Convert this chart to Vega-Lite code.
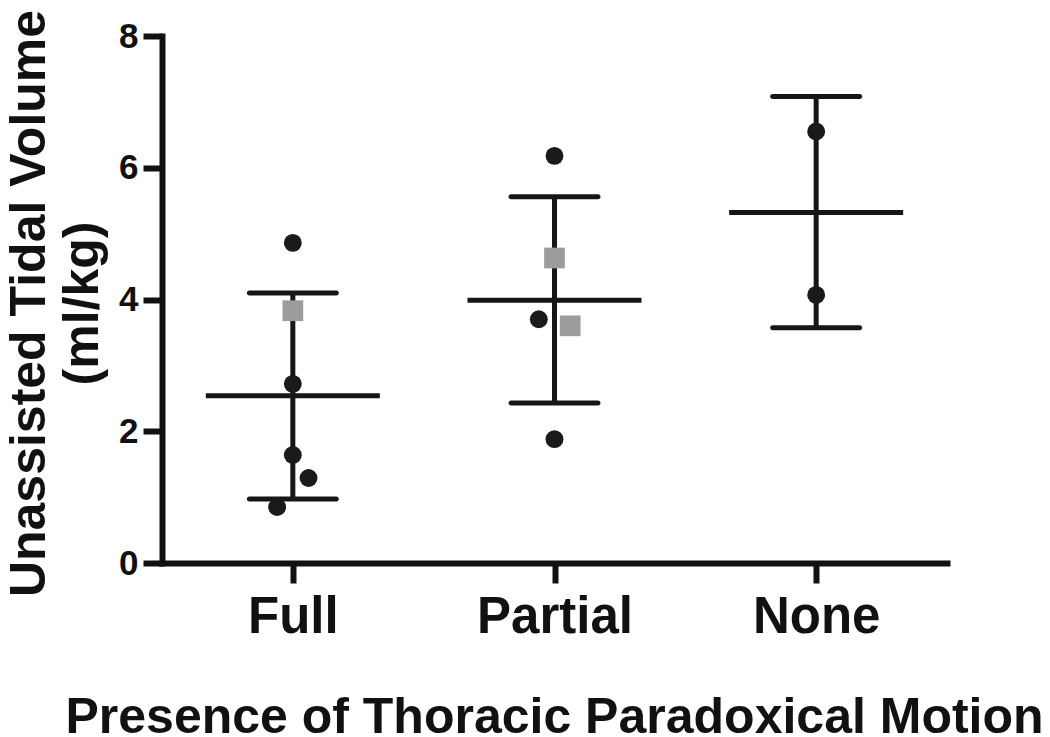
{
  "$schema": "https://vega.github.io/schema/vega-lite/v6.json",
  "width": 785,
  "height": 527,
  "autosize": "none",
  "padding": {"left": 162, "top": 36, "right": 103, "bottom": 174},
  "background": "white",
  "config": {
    "view": {"stroke": null},
    "font": "Liberation Sans",
    "axis": {
      "grid": false,
      "domainColor": "#111111",
      "domainWidth": 6,
      "domainCap": "square",
      "tickColor": "#111111",
      "tickWidth": 6,
      "labelFont": "Liberation Sans",
      "labelFontWeight": "bold",
      "labelColor": "#111111",
      "titleFont": "Liberation Sans",
      "titleFontWeight": "bold",
      "titleColor": "#111111"
    },
    "axisX": {
      "tickSize": 20,
      "labelFontSize": 51,
      "labelPadding": 49,
      "labelBaseline": "alphabetic",
      "titleFontSize": 50,
      "titleX": 392,
      "titleY": 169,
      "titleAlign": "center",
      "titleBaseline": "alphabetic"
    },
    "axisY": {
      "tickSize": 19,
      "labelFontSize": 35,
      "labelPadding": 5,
      "format": "d",
      "titleFontSize": 50,
      "titleX": -118,
      "titleY": 267,
      "titleAngle": 270,
      "titleAlign": "center",
      "titleBaseline": "alphabetic",
      "titleLineHeight": 53
    }
  },
  "datasets": {
    "points": [
      {"group": "Full", "x": 1.0, "value": 4.86, "marker": "A"},
      {"group": "Full", "x": 1.0, "value": 3.83, "marker": "B"},
      {"group": "Full", "x": 1.0, "value": 2.72, "marker": "A"},
      {"group": "Full", "x": 1.0, "value": 1.64, "marker": "A"},
      {"group": "Full", "x": 1.06, "value": 1.29, "marker": "A"},
      {"group": "Full", "x": 0.94, "value": 0.85, "marker": "A"},
      {"group": "Partial", "x": 2.0, "value": 6.18, "marker": "A"},
      {"group": "Partial", "x": 2.0, "value": 4.63, "marker": "B"},
      {"group": "Partial", "x": 1.94, "value": 3.70, "marker": "A"},
      {"group": "Partial", "x": 2.06, "value": 3.60, "marker": "B"},
      {"group": "Partial", "x": 2.0, "value": 1.88, "marker": "A"},
      {"group": "None", "x": 3.0, "value": 6.55, "marker": "A"},
      {"group": "None", "x": 3.0, "value": 4.07, "marker": "A"}
    ],
    "summary": [
      {"group": "Full", "x": 1, "mean": 2.54, "lo": 0.97, "hi": 4.10},
      {"group": "Partial", "x": 2, "mean": 3.99, "lo": 2.43, "hi": 5.56},
      {"group": "None", "x": 3, "mean": 5.32, "lo": 3.57, "hi": 7.08}
    ]
  },
  "layer": [
    {
      "data": {"name": "summary"},
      "mark": {"type": "rule", "color": "#161616", "strokeWidth": 5},
      "encoding": {
        "x": {"field": "x", "type": "quantitative", "scale": {"domain": [0.5, 3.5], "nice": false, "zero": false},
              "axis": {"values": [1, 2, 3], "labelExpr": "datum.value == 1 ? 'Full' : datum.value == 2 ? 'Partial' : 'None'"},
              "title": "Presence of Thoracic Paradoxical Motion"},
        "y": {"field": "lo", "type": "quantitative", "scale": {"domain": [0, 8], "nice": false},
              "axis": {"values": [0, 2, 4, 6, 8]},
              "title": ["Unassisted Tidal Volume", "(ml/kg)"]},
        "y2": {"field": "hi"}
      }
    },
    {
      "data": {"name": "summary"},
      "mark": {"type": "tick", "orient": "horizontal", "color": "#161616", "opacity": 1, "size": 174, "thickness": 5},
      "encoding": {
        "x": {"field": "x", "type": "quantitative", "title": "Presence of Thoracic Paradoxical Motion"},
        "y": {"field": "mean", "type": "quantitative", "title": ["Unassisted Tidal Volume", "(ml/kg)"]}
      }
    },
    {
      "data": {"name": "summary"},
      "mark": {"type": "tick", "orient": "horizontal", "color": "#161616", "opacity": 1, "size": 92, "thickness": 5, "cornerRadius": 2.5},
      "encoding": {
        "x": {"field": "x", "type": "quantitative", "title": "Presence of Thoracic Paradoxical Motion"},
        "y": {"field": "lo", "type": "quantitative", "title": ["Unassisted Tidal Volume", "(ml/kg)"]}
      }
    },
    {
      "data": {"name": "summary"},
      "mark": {"type": "tick", "orient": "horizontal", "color": "#161616", "opacity": 1, "size": 92, "thickness": 5, "cornerRadius": 2.5},
      "encoding": {
        "x": {"field": "x", "type": "quantitative", "title": "Presence of Thoracic Paradoxical Motion"},
        "y": {"field": "hi", "type": "quantitative", "title": ["Unassisted Tidal Volume", "(ml/kg)"]}
      }
    },
    {
      "data": {"name": "points"},
      "mark": {"type": "point", "filled": true, "opacity": 1, "strokeWidth": 0},
      "encoding": {
        "x": {"field": "x", "type": "quantitative", "title": "Presence of Thoracic Paradoxical Motion"},
        "y": {"field": "value", "type": "quantitative", "title": ["Unassisted Tidal Volume", "(ml/kg)"]},
        "shape": {"field": "marker", "type": "nominal", "scale": {"domain": ["A", "B"], "range": ["circle", "square"]}, "legend": null},
        "color": {"field": "marker", "type": "nominal", "scale": {"domain": ["A", "B"], "range": ["#1a1a1a", "#9c9c9c"]}, "legend": null},
        "size": {"field": "marker", "type": "nominal", "scale": {"domain": ["A", "B"], "range": [320, 430]}, "legend": null}
      }
    }
  ]
}
